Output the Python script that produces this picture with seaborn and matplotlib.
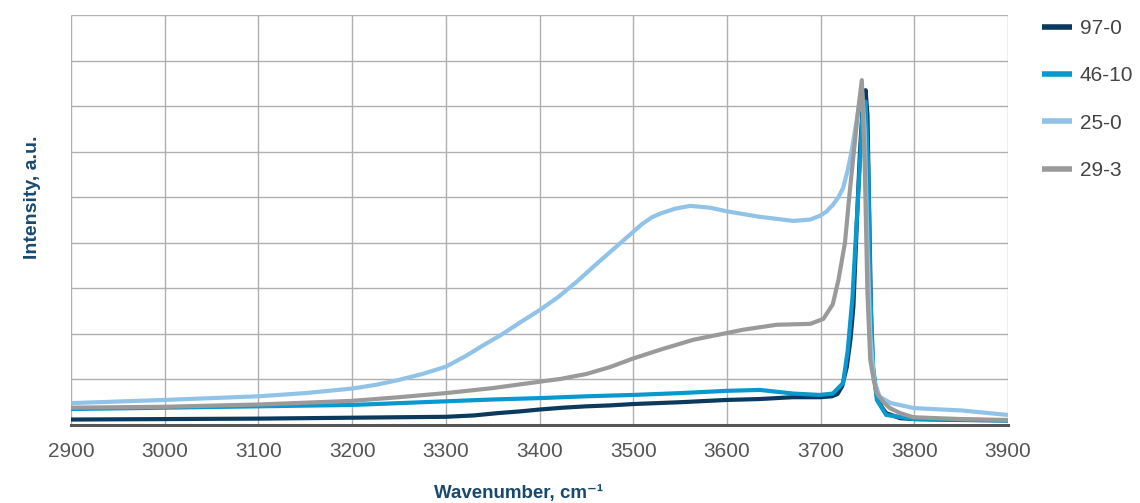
import numpy as np
import pandas as pd
import matplotlib
matplotlib.use("Agg")
import matplotlib.pyplot as plt
import seaborn as sns

# IR spectra, OH-stretch region (intensity in arbitrary units)
x_97_0 = [2900, 3000, 3100, 3200, 3300, 3330, 3355, 3380, 3400, 3425, 3450, 3475,
          3500, 3550, 3580, 3600, 3635, 3670, 3700, 3712, 3718, 3723, 3728, 3732,
          3735, 3739, 3742, 3745, 3748, 3750, 3752, 3754, 3756, 3760, 3765, 3770,
          3785, 3800, 3850, 3900]
y_97_0 = [0.12, 0.13, 0.14, 0.16, 0.18, 0.21, 0.26, 0.30, 0.34, 0.38, 0.41, 0.43,
          0.46, 0.50, 0.53, 0.55, 0.57, 0.61, 0.61, 0.63, 0.68, 0.85, 1.28, 1.90,
          2.60, 4.60, 6.00, 7.00, 7.35, 6.80, 4.50, 2.20, 1.20, 0.65, 0.40, 0.26,
          0.15, 0.13, 0.11, 0.10]

x_46_10 = [2900, 3000, 3100, 3200, 3300, 3350, 3400, 3450, 3500, 3550, 3600, 3635,
           3653, 3671, 3699, 3713, 3724, 3729, 3734, 3740, 3745, 3748, 3751, 3753,
           3756, 3760, 3770, 3800, 3900]
y_46_10 = [0.35, 0.38, 0.41, 0.44, 0.52, 0.56, 0.59, 0.63, 0.66, 0.70, 0.75, 0.77,
           0.73, 0.69, 0.66, 0.69, 0.92, 1.65, 2.80, 5.00, 6.90, 7.10, 5.50, 3.00,
           1.30, 0.55, 0.22, 0.13, 0.10]

x_25_0 = [2900, 3000, 3100, 3150, 3200, 3225, 3250, 3275, 3300, 3320, 3340, 3360,
          3380, 3400, 3420, 3440, 3460, 3480, 3500, 3510, 3520, 3530, 3545, 3561,
          3582, 3600, 3635, 3671, 3689, 3699, 3706, 3713, 3719, 3724, 3729, 3733,
          3737, 3741, 3744, 3747, 3750, 3753, 3757, 3763, 3775, 3800, 3850, 3900]
y_25_0 = [0.48, 0.55, 0.63, 0.70, 0.80, 0.88, 0.99, 1.12, 1.28, 1.50, 1.75, 1.99,
          2.26, 2.52, 2.81, 3.15, 3.52, 3.88, 4.24, 4.42, 4.56, 4.65, 4.75, 4.81,
          4.77, 4.69, 4.57, 4.48, 4.51, 4.59, 4.68, 4.83, 5.00, 5.20, 5.60, 6.00,
          6.50, 7.00, 7.40, 6.50, 4.00, 2.00, 1.00, 0.62, 0.48, 0.37, 0.32, 0.22]

x_29_3 = [2900, 3000, 3100, 3200, 3250, 3300, 3350, 3400, 3422, 3450, 3475, 3500,
          3530, 3564, 3600, 3617, 3653, 3689, 3703, 3713, 3719, 3726, 3731, 3736,
          3740, 3744, 3747, 3750, 3753, 3757, 3760, 3767, 3774, 3785, 3799, 3850,
          3900]
y_29_3 = [0.38, 0.40, 0.45, 0.53, 0.61, 0.70, 0.81, 0.95, 1.01, 1.12, 1.27, 1.46,
          1.66, 1.87, 2.02, 2.09, 2.20, 2.22, 2.33, 2.65, 3.18, 4.00, 5.10, 6.10,
          6.90, 7.57, 5.80, 2.90, 1.43, 0.95, 0.70, 0.50, 0.37, 0.26, 0.17, 0.13,
          0.11]

series_names = ["97-0", "46-10", "25-0", "29-3"]
series_x = [x_97_0, x_46_10, x_25_0, x_29_3]
series_y = [y_97_0, y_46_10, y_25_0, y_29_3]
colors = ["#0b3a5e", "#0a99cf", "#90c3e7", "#9a9a9a"]

x_ticks = [2900, 3000, 3100, 3200, 3300, 3400, 3500, 3600, 3700, 3800, 3900]

df = pd.concat(
    [pd.DataFrame({"wavenumber": xs, "intensity": ys, "sample": name})
     for name, xs, ys in zip(series_names, series_x, series_y)],
    ignore_index=True,
)

sns.set_theme(style="white")
plt.rcParams["font.family"] = ["Liberation Sans", "DejaVu Sans"]
plt.rcParams["lines.solid_joinstyle"] = "round"
plt.rcParams["lines.solid_capstyle"] = "butt"

fig = plt.figure(figsize=(11.4, 5.03), dpi=100)
ax = fig.add_axes([71 / 1140, 78 / 503, 937 / 1140, 410 / 503])

sns.lineplot(data=df, x="wavenumber", y="intensity", hue="sample",
             hue_order=series_names, palette=colors, estimator=None, sort=False,
             linewidth=3.0, ax=ax, legend=False)

ax.set_xlim(2900, 3900)
ax.set_ylim(0, 9)
ax.set_xticks(x_ticks)
ax.set_xticklabels([str(t) for t in x_ticks])
ax.set_yticks(np.arange(0, 10, 1))
ax.set_yticklabels([])
ax.grid(True, color="#b0b0b0", linewidth=1.0)
ax.set_axisbelow(True)
ax.tick_params(axis="both", length=0, labelsize=15, colors="#555555", pad=12)

for side in ["top", "right", "left"]:
    ax.spines[side].set_visible(False)
ax.spines["bottom"].set_color("#555555")
ax.spines["bottom"].set_linewidth(2.2)

label_color = "#174a6e"
ax.set_xlabel("Wavenumber, cm\u207b\u00b9", fontsize=13.5, fontweight="bold",
              color=label_color, va="center")
ax.xaxis.set_label_coords(0.478, -0.166)
ax.set_ylabel("Intensity, a.u.", fontsize=14, fontweight="bold", color=label_color,
              va="center")
ax.yaxis.set_label_coords(-0.0406, 0.556)

handles = [plt.Line2D([], [], color=c, linewidth=4) for c in colors]
ax.legend(handles, series_names, loc="upper left", bbox_to_anchor=(1.036, 0.99),
          frameon=False, fontsize=15, handlelength=1.45, handletextpad=0.38,
          labelspacing=1.36, labelcolor="#444444", borderaxespad=0.0, borderpad=0.0)

fig.savefig("out.png", dpi=100)
